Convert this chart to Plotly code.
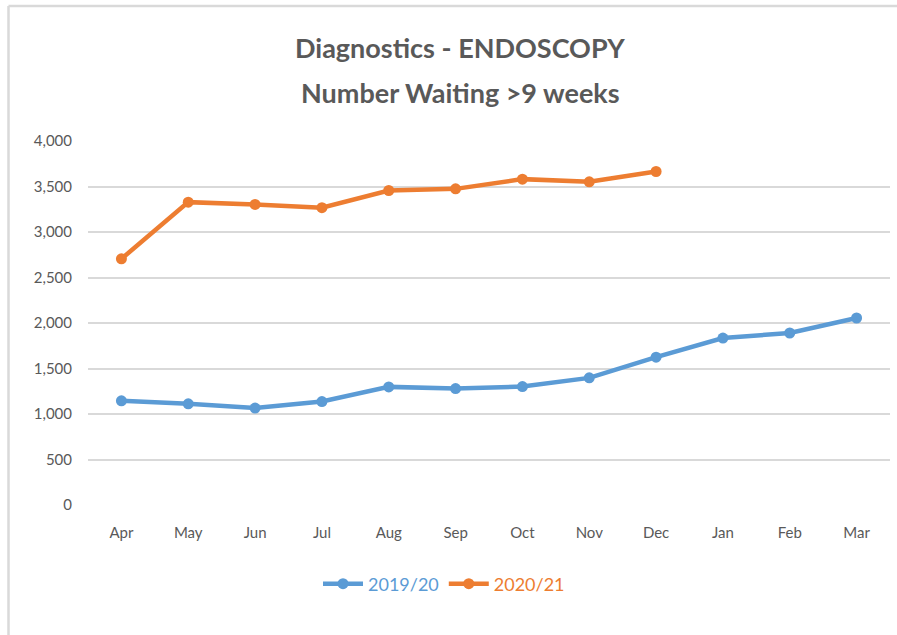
import plotly.graph_objects as go

months = ["Apr", "May", "Jun", "Jul", "Aug", "Sep", "Oct", "Nov", "Dec", "Jan", "Feb", "Mar"]
series_2019 = [1145, 1112, 1065, 1137, 1298, 1280, 1302, 1397, 1624, 1835, 1890, 2055]
series_2020 = [2705, 3328, 3303, 3267, 3456, 3474, 3581, 3552, 3665]
y_ticks = [0, 500, 1000, 1500, 2000, 2500, 3000, 3500, 4000]
title_lines = ["Diagnostics - ENDOSCOPY", "Number Waiting >9 weeks"]

BLUE = "#5B9BD5"
ORANGE = "#ED7D31"
GREY = "#595959"
FONT = "Lato, 'Open Sans', sans-serif"

fig = go.Figure()
fig.add_trace(go.Scatter(
    x=months, y=series_2019, mode="lines+markers",
    name=f"<span style='color:{BLUE}'>2019/20</span>",
    line=dict(color=BLUE, width=4.5), marker=dict(color=BLUE, size=11),
))
fig.add_trace(go.Scatter(
    x=months[:len(series_2020)], y=series_2020, mode="lines+markers",
    name=f"<span style='color:{ORANGE}'>2020/21</span>",
    line=dict(color=ORANGE, width=4.5), marker=dict(color=ORANGE, size=11),
))

W, H = 897, 635
ml, mr, mt, mb = 88, 7, 141, 130
pw, ph = W - ml - mr, H - mt - mb

def py(ypix):
    return (H - mb - ypix) / ph

def px(xpix):
    return (xpix - ml) / pw

annotations = [
    dict(text=f"<b>{t}</b>", xref="paper", yref="paper", x=px(460), y=py(yc),
         xanchor="center", yanchor="middle", showarrow=False,
         font=dict(size=27, color=GREY, family=FONT))
    for t, yc in zip(title_lines, [47, 92])
]

fig.update_layout(
    width=W, height=H,
    margin=dict(l=ml, r=mr, t=mt, b=mb),
    paper_bgcolor="white", plot_bgcolor="white",
    font=dict(family=FONT, color=GREY),
    annotations=annotations,
    xaxis=dict(
        type="category", categoryorder="array", categoryarray=months,
        range=[-0.5, 11.5], showgrid=False, zeroline=False, showline=False,
        ticks="", tickfont=dict(size=15, color=GREY), ticklabelstandoff=17,
    ),
    yaxis=dict(
        range=[0, 4000], tickvals=y_ticks, tickformat=",",
        showgrid=True, gridcolor="#D9D9D9", gridwidth=2,
        zeroline=False, showline=False, ticks="",
        tickfont=dict(size=15, color=GREY), ticklabelstandoff=15,
    ),
    showlegend=True,
    legend=dict(
        orientation="h", x=px(444), xanchor="center", y=py(584), yanchor="middle",
        font=dict(size=18, family=FONT),
        itemwidth=40, tracegroupgap=0,
    ),
    shapes=[
        dict(type="line", xref="paper", yref="paper",
             x0=px(8.5), x1=px(W + 5), y0=py(6), y1=py(6),
             line=dict(color="#D9D9D9", width=2.5)),
        dict(type="line", xref="paper", yref="paper",
             x0=px(8.5), x1=px(8.5), y0=py(6), y1=py(H + 5),
             line=dict(color="#D9D9D9", width=2.5)),
    ],
)

fig.write_html("out.html",
               config={"displayModeBar": False},
               post_script="document.body.style.margin='0';document.body.style.overflow='hidden';")
